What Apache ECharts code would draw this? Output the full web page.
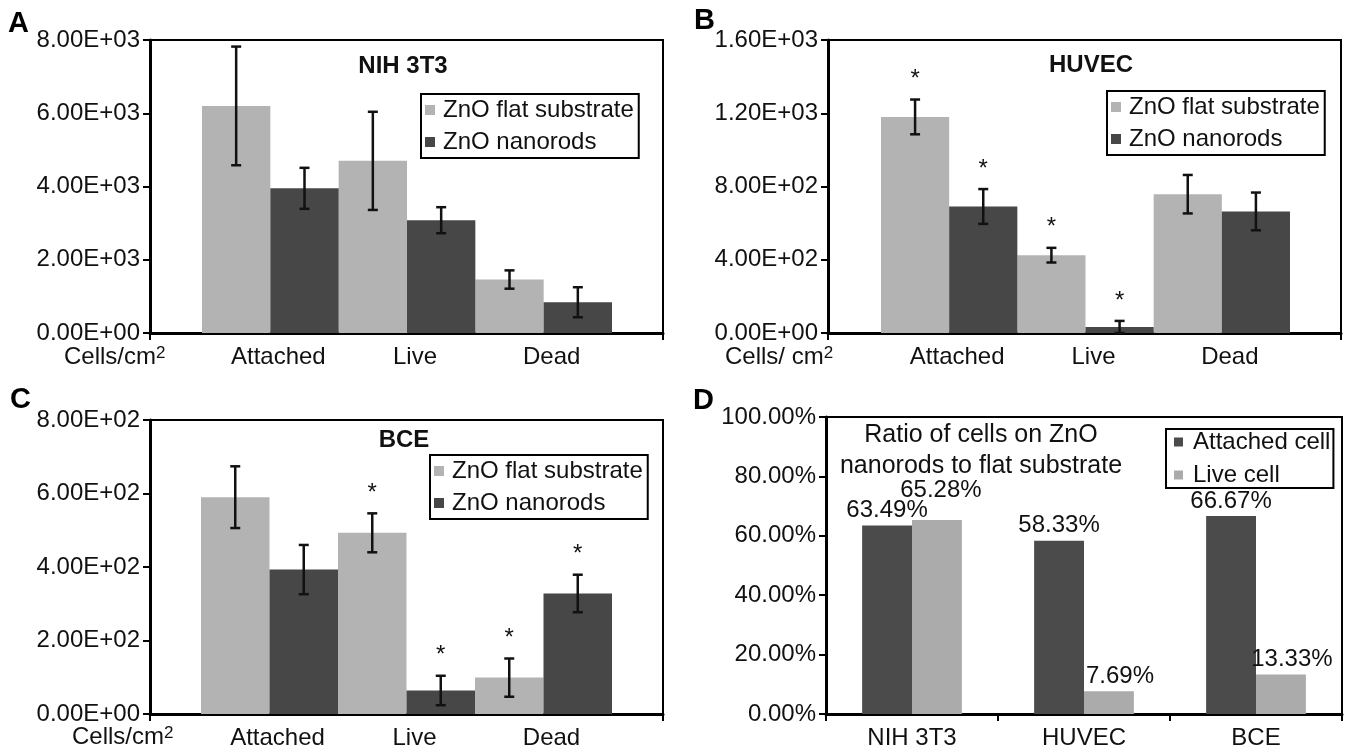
<!DOCTYPE html>
<html><head><meta charset="utf-8">
<script src="https://cdn.jsdelivr.net/npm/echarts@6/dist/echarts.min.js"></script>
<style>html,body{margin:0;padding:0;background:#fff}#c{width:1348px;height:754px}</style>
</head><body><div id="c"></div>
<script>
// ---------- data ----------
const categories = ['Attached', 'Live', 'Dead'];
const nihFlat = [6200, 4700, 1460];
const nihFlatErr = [1620, 1340, 250];
const nihNano = [3950, 3080, 840];
const nihNanoErr = [560, 355, 410];

const huvecFlat = [1180, 425, 758];
const huvecFlatErr = [95, 40, 105];
const huvecNano = [691, 33, 664];
const huvecNanoErr = [95, 33, 103];
const huvecFlatStar = [1, 1, 0];
const huvecNanoStar = [1, 1, 0];

const bceFlat = [590, 493, 99];
const bceFlatErr = [84, 53, 52];
const bceNano = [393, 64, 328];
const bceNanoErr = [67, 40, 51];
const bceFlatStar = [0, 1, 1];
const bceNanoStar = [0, 1, 1];

const ratioCategories = ['NIH 3T3', 'HUVEC', 'BCE'];
const attachedRatio = [63.49, 58.33, 66.67];
const liveRatio = [65.28, 7.69, 13.33];

const panelTitles = ['NIH 3T3', 'HUVEC', 'BCE', 'Ratio of cells on ZnO\nnanorods to flat substrate'];
const panelLetters = ['A', 'B', 'C', 'D'];
const seriesNames = ['ZnO flat substrate', 'ZnO nanorods'];
const ratioNames = ['Attached cell', 'Live cell'];

// ---------- styling ----------
const FONT = '"Liberation Sans", Arial, Helvetica, sans-serif';
const LIGHT = '#b3b3b3', DARK = '#474747';
const LIGHT_D = '#ababab', DARK_D = '#4b4b4b';
const INK = '#111';

const grid = [], xAxis = [], yAxis = [], series = [], legend = [], graphic = [];

function expFmt(v) {
  const p = Number(v).toExponential(2).split('e');
  const sign = p[1][0];
  const d = p[1].slice(1).padStart(2, '0');
  return p[0] + 'E' + sign + d;
}

function errSeries(xi, yi, vals, errs, stars, side) {
  return {
    type: 'custom', xAxisIndex: xi, yAxisIndex: yi, silent: true, z: 5,
    data: vals.map((v, i) => [i, v, errs[i], stars ? stars[i] : 0]),
    encode: { x: 0, y: 1 },
    renderItem(params, api) {
      const i = api.value(0), v = api.value(1), e = api.value(2), s = api.value(3);
      const band = api.size([1, 0])[0];
      const c = api.coord([i, v]);
      const x = c[0] + side * band / 4;
      const yt = api.coord([i, v + e])[1];
      const yb = api.coord([i, Math.max(0, v - e)])[1];
      const st = { stroke: INK, lineWidth: 2.5 };
      const ch = [
        { type: 'line', shape: { x1: x, y1: yt, x2: x, y2: yb }, style: st },
        { type: 'line', shape: { x1: x - 5, y1: yt, x2: x + 5, y2: yt }, style: st },
        { type: 'line', shape: { x1: x - 5, y1: yb, x2: x + 5, y2: yb }, style: st }
      ];
      if (s) ch.push({ type: 'text', x: x, y: yt - 20,
        style: { text: '*', fontSize: 24, fontFamily: FONT, fill: INK, align: 'center', verticalAlign: 'middle', textAlign: 'center', textVerticalAlign: 'middle' } });
      return { type: 'group', children: ch };
    }
  };
}

function addPanel(cfg) {
  const fg = grid.length;
  grid.push({ left: cfg.frame[0], top: cfg.frame[1], width: cfg.frame[2], height: cfg.frame[3],
    show: true, borderColor: '#000', borderWidth: 2, backgroundColor: 'rgba(0,0,0,0)' });
  xAxis.push({ type: 'category', gridIndex: fg, data: [''], boundaryGap: true,
    axisLine: { show: true, onZero: false, lineStyle: { color: '#000', width: 3 } },
    axisTick: { show: true, length: 7, lineStyle: { color: '#000', width: 2 } },
    axisLabel: { show: false }, splitLine: { show: false } });
  yAxis.push({ type: 'value', gridIndex: fg, min: 0, max: cfg.max, interval: cfg.max / 4,
    axisLine: { show: true, lineStyle: { color: '#000', width: 3 } },
    axisTick: { show: true, length: 7, lineStyle: { color: '#000', width: 2 } },
    splitLine: { show: false },
    axisLabel: { formatter: expFmt, fontSize: 24, fontFamily: FONT, color: INK, margin: 10 } });

  const bg = grid.length;
  grid.push({ left: cfg.bars[0], top: cfg.frame[1], width: cfg.bars[1], height: cfg.frame[3] });
  const bx = xAxis.length;
  xAxis.push({ type: 'category', gridIndex: bg, data: categories,
    axisLine: { show: false }, axisTick: { show: false },
    axisLabel: { interval: 0, fontSize: 24, fontFamily: FONT, color: INK, margin: 12, padding: [0, 0, 0, 16] } });
  const by = yAxis.length;
  yAxis.push({ type: 'value', gridIndex: bg, min: 0, max: cfg.max, show: false });

  series.push({ type: 'bar', name: seriesNames[0], xAxisIndex: bx, yAxisIndex: by, data: cfg.flat,
    barGap: '0%', barCategoryGap: '0%', itemStyle: { color: LIGHT } });
  series.push({ type: 'bar', name: seriesNames[1], xAxisIndex: bx, yAxisIndex: by, data: cfg.nano,
    barGap: '0%', barCategoryGap: '0%', itemStyle: { color: DARK } });
  series.push(errSeries(bx, by, cfg.flat, cfg.flatErr, cfg.flatStar, -1));
  series.push(errSeries(bx, by, cfg.nano, cfg.nanoErr, cfg.nanoStar, 1));

  legend.push({ orient: 'vertical', left: cfg.legend[0], top: cfg.legend[1], data: seriesNames,
    selectedMode: false, itemWidth: 10, itemHeight: 10, itemGap: 8, icon: 'rect',
    padding: [4, 5, 4, 4], borderColor: '#000', borderWidth: 2,
    textStyle: { fontSize: 24, fontFamily: FONT, color: INK, padding: [0, 0, 0, 3] } });

  graphic.push({ type: 'text', x: cfg.title[0], y: cfg.title[1],
    style: { text: cfg.titleText, fontSize: 24, fontWeight: 'bold', fontFamily: FONT, fill: INK,
      align: 'center', verticalAlign: 'middle', textAlign: 'center', textVerticalAlign: 'middle' } });
  graphic.push({ type: 'text', x: cfg.unit[0], y: cfg.unit[1],
    style: { text: cfg.unitText + '{s|2}', fontSize: 24, fontFamily: FONT, fill: INK,
      align: 'left', verticalAlign: 'middle', textAlign: 'left', textVerticalAlign: 'middle',
      rich: { s: { fontSize: 17, fontFamily: FONT, fill: INK, verticalAlign: 'top' } } } });
}

addPanel({ frame: [150, 40, 513, 293], bars: [202, 410], max: 8000,
  flat: nihFlat, flatErr: nihFlatErr, nano: nihNano, nanoErr: nihNanoErr,
  legend: [421, 94], title: [403, 66], titleText: panelTitles[0], unit: [64, 357], unitText: 'Cells/cm' });
addPanel({ frame: [828, 40, 513, 293], bars: [881, 409], max: 1600,
  flat: huvecFlat, flatErr: huvecFlatErr, nano: huvecNano, nanoErr: huvecNanoErr,
  flatStar: huvecFlatStar, nanoStar: huvecNanoStar,
  legend: [1107, 91], title: [1091, 65], titleText: panelTitles[1], unit: [725, 357], unitText: 'Cells/ cm' });
addPanel({ frame: [150, 420, 513, 294], bars: [201, 411], max: 800,
  flat: bceFlat, flatErr: bceFlatErr, nano: bceNano, nanoErr: bceNanoErr,
  flatStar: bceFlatStar, nanoStar: bceNanoStar,
  legend: [430, 455], title: [404, 440], titleText: panelTitles[2], unit: [72, 737], unitText: 'Cells/cm' });

// Panel D
const dg = grid.length;
grid.push({ left: 826, top: 417, width: 516, height: 297, show: true, borderColor: '#000', borderWidth: 2, backgroundColor: 'rgba(0,0,0,0)' });
const dx = xAxis.length;
xAxis.push({ type: 'category', gridIndex: dg, data: ratioCategories,
  axisLine: { show: true, lineStyle: { color: '#000', width: 3 } },
  axisTick: { show: true, length: 7, lineStyle: { color: '#000', width: 2 } },
  axisLabel: { interval: 0, fontSize: 24, fontFamily: FONT, color: INK, margin: 12 } });
const dy = yAxis.length;
yAxis.push({ type: 'value', gridIndex: dg, min: 0, max: 100, interval: 20,
  axisLine: { show: true, lineStyle: { color: '#000', width: 3 } },
  axisTick: { show: true, length: 7, lineStyle: { color: '#000', width: 2 } },
  splitLine: { show: false },
  axisLabel: { formatter: v => v.toFixed(2) + '%', fontSize: 24, fontFamily: FONT, color: INK, margin: 10 } });
const pctFmt = p => Number(p.value).toFixed(2) + '%';
series.push({ type: 'bar', name: ratioNames[0], xAxisIndex: dx, yAxisIndex: dy, data: attachedRatio,
  barGap: '0%', barCategoryGap: '42%', itemStyle: { color: DARK_D },
  label: { show: true, position: 'top', distance: 3, formatter: pctFmt, fontSize: 24, fontFamily: FONT, color: INK } });
series.push({ type: 'bar', name: ratioNames[1], xAxisIndex: dx, yAxisIndex: dy,
  data: liveRatio.map((v, i) => i === 0 ? { value: v, label: { distance: 18, offset: [4, 0] } } : v),
  barGap: '0%', barCategoryGap: '42%', itemStyle: { color: LIGHT_D },
  label: { show: true, position: 'top', distance: 3, offset: [11, 0], formatter: pctFmt, fontSize: 24, fontFamily: FONT, color: INK } });
legend.push({ orient: 'vertical', left: 1166, top: 429, data: ratioNames,
  selectedMode: false, itemWidth: 9, itemHeight: 9, itemGap: 9, icon: 'rect',
  padding: [1, 3, 1, 8], borderColor: '#000', borderWidth: 2,
  textStyle: { fontSize: 24, fontFamily: FONT, color: INK, padding: [0, 0, 0, 5] } });
graphic.push({ type: 'text', x: 981, y: 451,
  style: { text: panelTitles[3], fontSize: 25, lineHeight: 31, fontFamily: FONT, fill: INK,
    align: 'center', verticalAlign: 'middle', textAlign: 'center', textVerticalAlign: 'middle' } });

// panel letters
const letterPos = [[8, 24], [694, 21], [10, 400], [693, 401]];
panelLetters.forEach((t, i) => graphic.push({ type: 'text', x: letterPos[i][0], y: letterPos[i][1],
  style: { text: t, fontSize: 29, fontWeight: 'bold', fontFamily: FONT, fill: '#000',
    align: 'left', verticalAlign: 'middle', textAlign: 'left', textVerticalAlign: 'middle' } }));

const chart = echarts.init(document.getElementById('c'), null, { renderer: 'canvas' });
chart.setOption({
  backgroundColor: '#fff',
  animation: false,
  textStyle: { fontFamily: FONT },
  grid, xAxis, yAxis, series, legend, graphic
});
</script></body></html>
